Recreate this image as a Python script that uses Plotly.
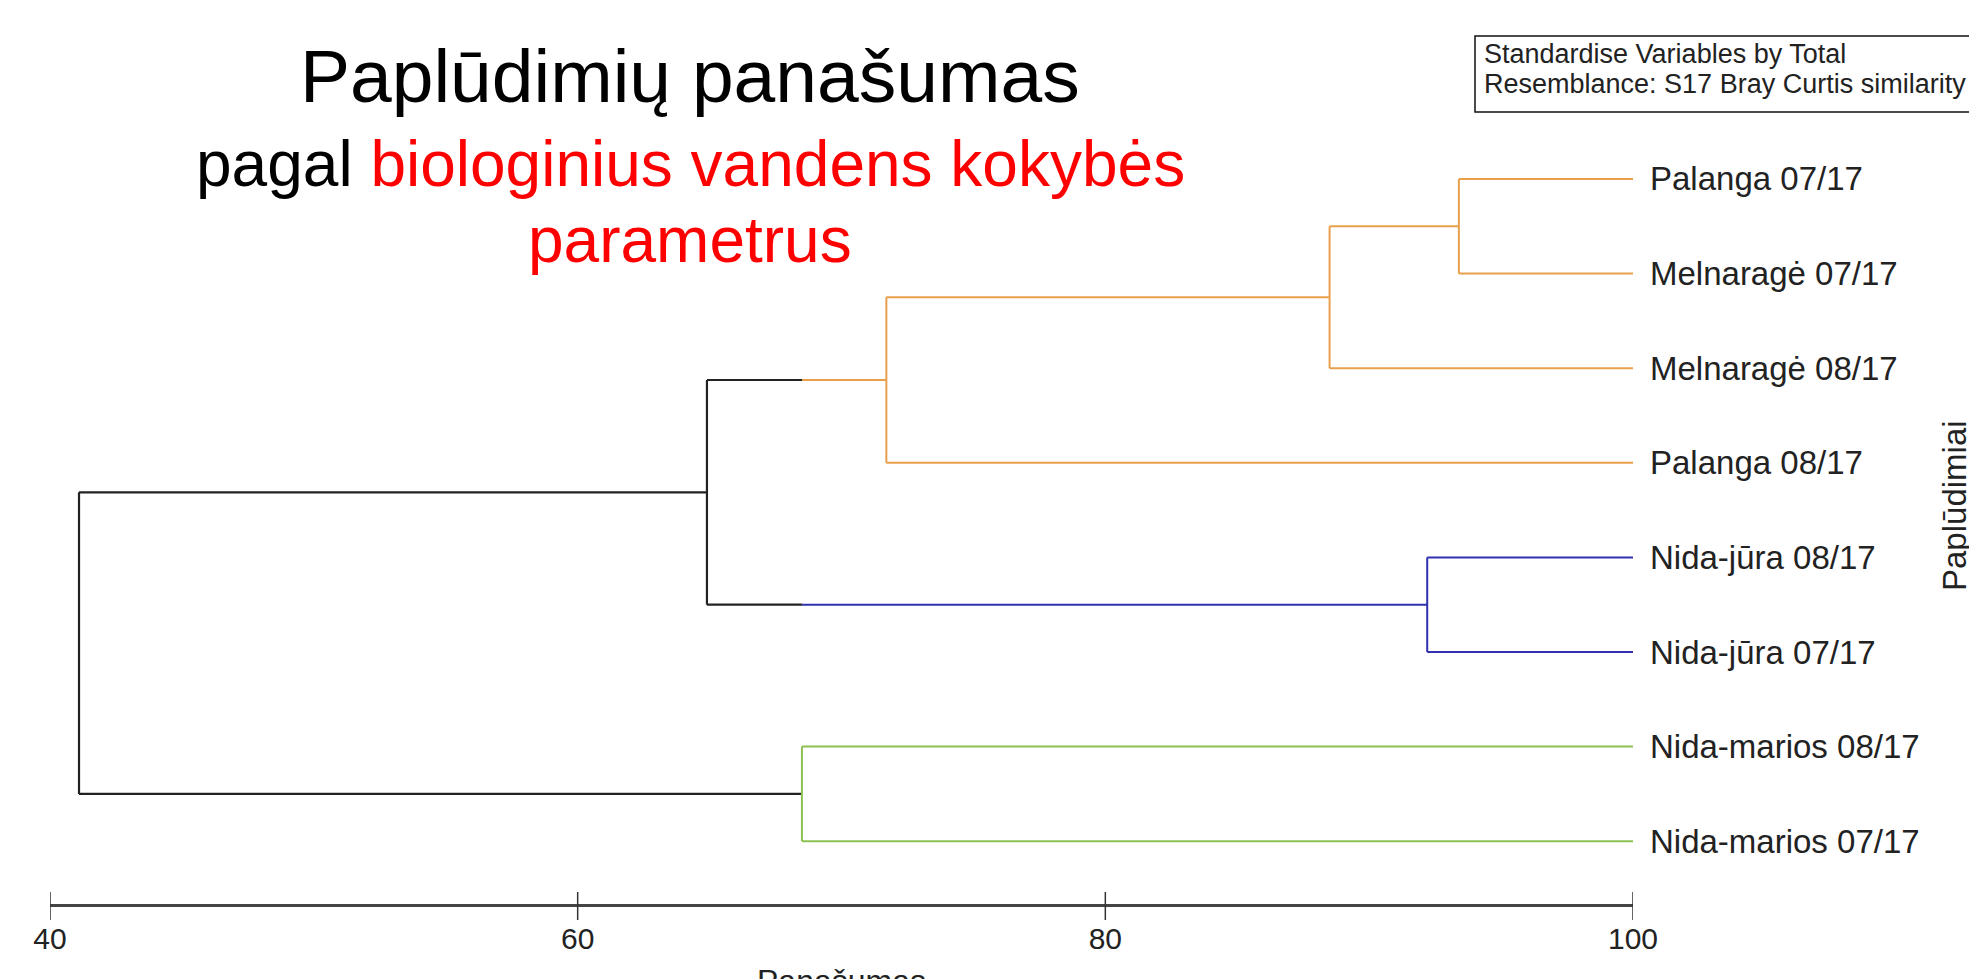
import plotly.graph_objects as go

# ---------------- data ----------------
leaf_labels = ["Palanga 07/17", "Melnaragė 07/17", "Melnaragė 08/17", "Palanga 08/17",
               "Nida-jūra 08/17", "Nida-jūra 07/17", "Nida-marios 08/17", "Nida-marios 07/17"]
leaf_group = [0, 0, 0, 0, 1, 1, 2, 2]
group_colors = ["#E8A04C", "#3030B0", "#8CC152"]
# merged nodes get ids 8, 9, ... in order
merge_left = [0, 8, 9, 4, 10, 6, 12]
merge_right = [1, 2, 3, 5, 11, 7, 13]
merge_similarity = [93.4, 88.5, 71.7, 92.2, 64.9, 68.5, 41.1]
color_threshold = 68.5
x_ticks = [40, 60, 80, 100]
x_tick_labels = ["40", "60", "80", "100"]

FONT = "Liberation Sans, Arial, sans-serif"
W, H = 1977, 979
OFF = 8  # page body margin compensation
BLACK = "#222222"


def px(v):
    return v - OFF


# ---------------- dendrogram geometry ----------------
n_leaves = len(leaf_labels)
pos = list(range(n_leaves))
height = [100.0] * n_leaves
group = list(leaf_group)
for l, r, s in zip(merge_left, merge_right, merge_similarity):
    pos.append((pos[l] + pos[r]) / 2)
    height.append(s)
    group.append(group[l] if group[l] == group[r] else None)

segs = {}  # color -> (xs, ys)


def add(color, xs, ys):
    bx, by = segs.setdefault(color, ([], []))
    bx.extend(xs + [None])
    by.extend(ys + [None])


for k, (l, r, s) in enumerate(zip(merge_left, merge_right, merge_similarity)):
    node = n_leaves + k
    vcol = group_colors[group[node]] if (s >= color_threshold and group[node] is not None) else BLACK
    add(vcol, [s, s], [pos[l], pos[r]])
    for c in (l, r):
        hc = height[c]
        ccol = group_colors[group[c]] if group[c] is not None else BLACK
        if hc <= color_threshold:
            add(BLACK, [s, hc], [pos[c], pos[c]])
        elif s >= color_threshold:
            add(ccol, [s, hc], [pos[c], pos[c]])
        else:
            add(BLACK, [s, color_threshold], [pos[c], pos[c]])
            add(ccol, [color_threshold, hc], [pos[c], pos[c]])

fig = go.Figure()
for color, (xs, ys) in segs.items():
    fig.add_trace(go.Scatter(x=xs, y=ys, mode="lines",
                             line=dict(color=color, width=2.2 if color == BLACK else 2),
                             hoverinfo="skip", showlegend=False, cliponaxis=False))

# ---------------- layout ----------------
axis_px = px(904)
top_px = px(132)
leaf0_px, leaf_step = px(179), 94.6
y_bottom = (n_leaves - 1) + (axis_px - (leaf0_px + (n_leaves - 1) * leaf_step)) / leaf_step
y_top = -(leaf0_px - top_px) / leaf_step
ydom0 = (H - axis_px) / H


def fx(v):
    return px(v) / W


def fy(v):
    return 1 - px(v) / H


annotations = []
for i, lab in enumerate(leaf_labels):
    annotations.append(dict(x=100, y=i, xref="x", yref="y", text=lab, showarrow=False,
                            xanchor="left", yanchor="middle", xshift=15,
                            font=dict(family=FONT, size=33, color=BLACK)))

# titles
annotations.append(dict(x=fx(690), y=fy(76), xref="paper", yref="paper",
                        text="Paplūdimių panašumas", showarrow=False,
                        xanchor="center", yanchor="middle",
                        font=dict(family=FONT, size=75, color="#000000")))
annotations.append(dict(x=fx(690), y=fy(164), xref="paper", yref="paper",
                        text="pagal <span style='color:#FF0000'>biologinius vandens kokybės</span>",
                        showarrow=False, xanchor="center", yanchor="middle",
                        font=dict(family=FONT, size=64, color="#000000")))
annotations.append(dict(x=fx(690), y=fy(240), xref="paper", yref="paper",
                        text="parametrus", showarrow=False,
                        xanchor="center", yanchor="middle",
                        font=dict(family=FONT, size=64, color="#FF0000")))

# info box text
for txt, ypx in (("Standardise Variables by Total", 54),
                 ("Resemblance: S17 Bray Curtis similarity", 84)):
    annotations.append(dict(x=fx(1482), y=fy(ypx), xref="paper", yref="paper",
                            text=txt, showarrow=False, xanchor="left", yanchor="middle",
                            font=dict(family=FONT, size=27, color=BLACK)))

# axis titles
annotations.append(dict(x=70, y=fy(961), xref="x", yref="paper", text="Panašumas",
                        showarrow=False, xanchor="center", yanchor="top",
                        font=dict(family=FONT, size=32, color=BLACK)))
annotations.append(dict(x=fx(1954), y=fy(506), xref="paper", yref="paper",
                        text="Paplūdimiai", showarrow=False, textangle=-90,
                        xanchor="center", yanchor="middle",
                        font=dict(family=FONT, size=33, color=BLACK)))

shapes = [dict(type="rect", xref="paper", yref="paper",
               x0=fx(1475), x1=1.02, y0=fy(112), y1=fy(36),
               line=dict(color="#111111", width=1.5), fillcolor="rgba(0,0,0,0)")]
for t in x_ticks:
    shapes.append(dict(type="line", xref="x", yref="paper", ysizemode="pixel",
                       yanchor=ydom0, x0=t, x1=t, y0=-16, y1=12,
                       line=dict(color="#333333", width=1.5)))

fig.update_layout(
    width=W, height=H,
    margin=dict(l=0, r=0, t=0, b=0, autoexpand=False),
    paper_bgcolor="white", plot_bgcolor="white",
    showlegend=False,
    xaxis=dict(domain=[fx(50), fx(1633)], range=[40, 100], automargin=False,
               showline=True, linewidth=3, linecolor="#444444",
               ticks="outside", ticklen=6, tickwidth=1, tickcolor="rgba(0,0,0,0)",
               tickvals=x_ticks, ticktext=x_tick_labels,
               tickfont=dict(family=FONT, size=30, color=BLACK),
               showgrid=False, zeroline=False, fixedrange=True),
    yaxis=dict(domain=[ydom0, (H - top_px) / H], range=[y_bottom, y_top], automargin=False,
               visible=False, showgrid=False, zeroline=False, fixedrange=True),
    annotations=annotations,
    shapes=shapes,
)

fig.write_html("out.html")
